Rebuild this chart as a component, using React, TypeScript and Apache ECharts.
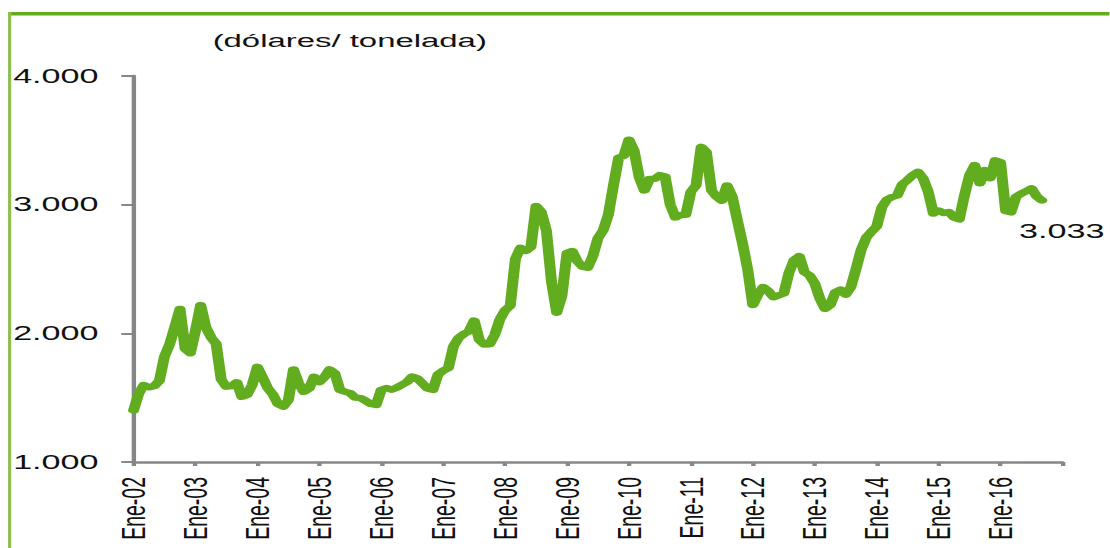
import React, { useEffect, useRef } from "react";
import * as echarts from "echarts";

const MONTHS = ["Ene", "Feb", "Mar", "Abr", "May", "Jun", "Jul", "Ago", "Sep", "Oct", "Nov", "Dic"];
const FIRST_YEAR = 2002;
const LAST_YEAR = 2016;

const UNIT_LABEL = "(dólares/ tonelada)";
const Y_TICKS = [1000, 2000, 3000, 4000];
const END_LABEL = "3.033";

// Monthly price, Jan-2002 .. Sep-2016 (US$/t)
const V2002 = [1400, 1530, 1598, 1580, 1590, 1630, 1820, 1915, 2050, 2190, 1880, 1845];
const V2003 = [2020, 2220, 2050, 1970, 1920, 1640, 1585, 1590, 1620, 1507, 1522, 1600];
const V2004 = [1740, 1660, 1575, 1525, 1450, 1430, 1480, 1720, 1612, 1545, 1570, 1663];
const V2005 = [1620, 1660, 1720, 1690, 1560, 1546, 1535, 1500, 1497, 1475, 1450, 1443];
const V2006 = [1560, 1575, 1562, 1578, 1600, 1622, 1665, 1650, 1610, 1570, 1560, 1680];
const V2007 = [1710, 1730, 1900, 1965, 1995, 2015, 2100, 1950, 1912, 1915, 1990, 2110];
const V2008 = [2180, 2215, 2580, 2665, 2640, 2670, 2990, 2945, 2800, 2400, 2160, 2290];
const V2009 = [2625, 2640, 2560, 2518, 2510, 2600, 2740, 2800, 2920, 3150, 3365, 3380];
const V2010 = [3505, 3420, 3210, 3110, 3200, 3200, 3230, 3220, 3000, 2900, 2920, 2920];
const V2011 = [3100, 3150, 3450, 3410, 3110, 3060, 3030, 3150, 3065, 2880, 2700, 2500];
const V2012 = [2220, 2300, 2360, 2330, 2280, 2295, 2310, 2470, 2570, 2600, 2475, 2450];
const V2013 = [2389, 2270, 2190, 2220, 2320, 2340, 2300, 2360, 2500, 2650, 2745, 2790];
const V2014 = [2830, 2980, 3040, 3060, 3072, 3160, 3192, 3230, 3255, 3205, 3100, 2930];
const V2015 = [2955, 2935, 2943, 2900, 2885, 3070, 3230, 3308, 3166, 3269, 3205, 3345];
const V2016 = [3330, 2950, 2940, 3060, 3085, 3105, 3127, 3065, 3033];

const VALUES = [
  ...V2002, ...V2003, ...V2004, ...V2005, ...V2006, ...V2007, ...V2008, ...V2009,
  ...V2010, ...V2011, ...V2012, ...V2013, ...V2014, ...V2015, ...V2016,
];

const CATEGORIES: string[] = [];
for (let y = FIRST_YEAR; y <= LAST_YEAR; y++) {
  for (const m of MONTHS) CATEGORIES.push(`${m}-${String(y % 100).padStart(2, "0")}`);
}
CATEGORIES.push(`Ene-${String((LAST_YEAR + 1) % 100).padStart(2, "0")}`);

const STRETCH = 1.75;
const W = 1110 / STRETCH;
const H = 548;

const fmt = (v: number) => {
  const s = String(Math.round(v));
  return s.replace(/\B(?=(\d{3})+(?!\d))/g, ".");
};

export default function App() {
  const ref = useRef<HTMLDivElement>(null);
  useEffect(() => {
    if (!ref.current) return;
    const chart = echarts.init(ref.current, null, { renderer: "svg" });
    const font = "'Liberation Sans', Arial, sans-serif";
    const last = CATEGORIES.length - 1;
    chart.setOption({
      animation: false,
      backgroundColor: "#ffffff",
      textStyle: { fontFamily: font },
      title: {
        text: UNIT_LABEL,
        left: 121.5,
        top: 31,
        padding: 0,
        textStyle: { fontFamily: font, fontSize: 18.8, fontWeight: "normal", color: "#111111" },
      },
      graphic: [
        { type: "rect", shape: { x: 4.6, y: 12, width: W, height: 3.5 }, style: { fill: "#62ad1f" }, silent: true },
        { type: "rect", shape: { x: 4.6, y: 12, width: 1.8, height: H }, style: { fill: "#8dbf4f" }, silent: true },
      ],
      grid: {
        left: 76.3,
        right: W - 607.4,
        top: 76,
        bottom: H - 462,
        containLabel: false,
        outerBoundsMode: "none",
      },
      xAxis: {
        type: "category",
        data: CATEGORIES,
        boundaryGap: false,
        axisLine: { show: true, lineStyle: { color: "#878787", width: 2.5 } },
        axisTick: {
          show: true,
          interval: (i: number) => i % 12 === 0,
          length: 4,
          lineStyle: { color: "#878787", width: 2.5 },
        },
        axisLabel: {
          show: true,
          interval: (i: number) => i % 12 === 0 && i < last,
          rotate: 90,
          margin: 15,
          fontSize: 19.5,
          fontFamily: font,
          color: "#111111",
        },
        splitLine: { show: false },
      },
      yAxis: {
        type: "value",
        min: Y_TICKS[0],
        max: Y_TICKS[Y_TICKS.length - 1],
        interval: 1000,
        axisLine: { show: true, lineStyle: { color: "#878787", width: 2.5 } },
        axisTick: { show: true, length: 7, lineStyle: { color: "#878787", width: 2 } },
        axisLabel: {
          margin: 20,
          fontSize: 19.5,
          fontFamily: font,
          color: "#111111",
          formatter: (v: number) => fmt(v),
        },
        splitLine: { show: false },
      },
      series: [
        {
          type: "line",
          data: VALUES,
          showSymbol: false,
          symbol: "none",
          lineStyle: { color: "#62ad1f", width: 6.3, cap: "round", join: "round" },
          endLabel: {
            show: true,
            formatter: () => END_LABEL,
            offset: [-21, 31],
            fontSize: 19.5,
            fontFamily: font,
            color: "#111111",
          },
        },
      ],
    });
    return () => chart.dispose();
  }, []);
  return (
    <div
      style={{
        position: "fixed",
        left: 0,
        top: 0,
        width: 1110,
        height: H,
        overflow: "hidden",
        background: "#fff",
      }}
    >
      <div
        ref={ref}
        style={{
          width: W,
          height: H,
          transform: `scaleX(${STRETCH})`,
          transformOrigin: "0 0",
        }}
      />
    </div>
  );
}
